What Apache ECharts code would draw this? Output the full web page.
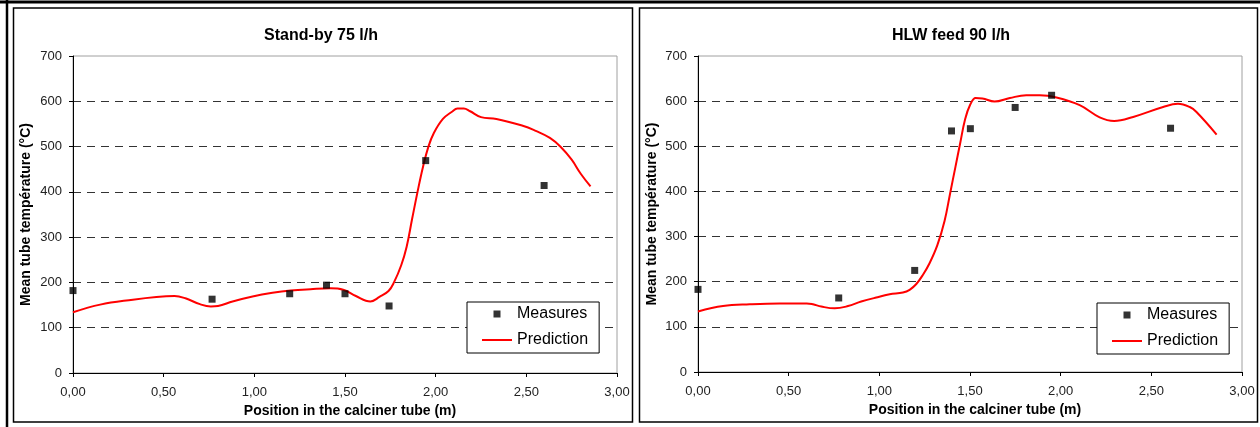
<!DOCTYPE html>
<html>
<head>
<meta charset="utf-8">
<title>Calciner tube temperature</title>
<script src="https://cdn.jsdelivr.net/npm/echarts@6/dist/echarts.min.js"></script>
<style>
  html, body { margin: 0; padding: 0; background: #fff; }
  #main { width: 1260px; height: 427px; }
</style>
</head>
<body>
<div id="main"></div>
<script>
// chart titles
var titles = ['Stand-by 75 l/h', 'HLW feed 90 l/h'];
var seriesNames = ['Measures', 'Prediction'];

// axis ticks and labels
var xTicks = [0, 0.5, 1, 1.5, 2, 2.5, 3];
var xTickLabels = ['0,00', '0,50', '1,00', '1,50', '2,00', '2,50', '3,00'];
var yTicks = [0, 100, 200, 300, 400, 500, 600, 700];
var yTickLabels = ['0', '100', '200', '300', '400', '500', '600', '700'];

// Stand-by 75 l/h : [position (m), temperature (°C)]
var standbyMeasures = [
  [0, 182], [0.767, 163], [1.195, 175], [1.398, 194],
  [1.50, 175], [1.743, 148], [1.945, 469], [2.598, 414]
];
var standbyPrediction = [
  [0, 134], [0.15, 151], [0.33, 162], [0.46, 168], [0.56, 170], [0.62, 165],
  [0.70, 152], [0.76, 147], [0.80, 148], [0.88, 158], [0.99, 169], [1.10, 177],
  [1.20, 182], [1.31, 185], [1.42, 187], [1.49, 184], [1.56, 170], [1.64, 158],
  [1.69, 168], [1.74, 181], [1.77, 200], [1.81, 238], [1.84, 279], [1.87, 340],
  [1.90, 400], [1.93, 455], [1.96, 500], [1.99, 530], [2.04, 561], [2.09, 577],
  [2.12, 584], [2.155, 584], [2.19, 578], [2.25, 565], [2.335, 561], [2.48, 546],
  [2.54, 537], [2.63, 519], [2.69, 499], [2.75, 471], [2.80, 440], [2.854, 412]
];

// HLW feed 90 l/h
var hlwMeasures = [
  [0, 183], [0.776, 164], [1.195, 225], [1.398, 534],
  [1.502, 539], [1.749, 586], [1.95, 613], [2.606, 540]
];
var hlwPrediction = [
  [0, 134], [0.138, 146], [0.285, 150], [0.45, 152], [0.60, 152], [0.634, 150],
  [0.68, 145], [0.754, 141], [0.827, 146], [0.90, 156], [0.983, 165], [1.057, 172],
  [1.13, 176], [1.167, 182], [1.204, 195], [1.24, 215], [1.277, 241], [1.32, 281],
  [1.36, 335], [1.39, 395], [1.42, 455], [1.445, 505], [1.473, 560], [1.502, 593],
  [1.531, 607], [1.569, 606], [1.635, 599], [1.72, 607], [1.81, 613], [1.885, 613],
  [1.977, 608], [2.105, 591], [2.215, 564], [2.295, 556], [2.40, 565], [2.565, 587],
  [2.647, 594], [2.712, 587], [2.749, 576], [2.86, 526]
];

var FONT = 'Liberation Sans, Arial, sans-serif';

function labelFor(ticks, labels) {
  return function (v) {
    var i = ticks.indexOf(Math.round(v * 1000) / 1000);
    return i >= 0 ? labels[i] : '';
  };
}

function makeX(idx) {
  return {
    type: 'value', gridIndex: idx, min: 0, max: 3, interval: 0.5,
    name: 'Position in the calciner tube (m)',
    nameLocation: 'middle', nameGap: 28,
    nameTextStyle: { fontFamily: FONT, fontSize: 14, fontWeight: 'bold', color: '#000', padding: [0, 0, 0, 10] },
    axisLine: { onZero: false, lineStyle: { color: '#000', width: 1 } },
    axisTick: { show: true, length: 4, lineStyle: { color: '#000' } },
    axisLabel: { fontFamily: FONT, fontSize: 13, color: '#222', margin: 13, formatter: labelFor(xTicks, xTickLabels) },
    splitLine: { show: false }
  };
}

function makeY(idx, gap) {
  return {
    type: 'value', gridIndex: idx, min: 0, max: 700, interval: 100,
    name: 'Mean tube température (°C)',
    nameLocation: 'middle', nameGap: gap,
    nameTextStyle: { fontFamily: FONT, fontSize: 14, fontWeight: 'bold', color: '#000' },
    axisLine: { show: true, lineStyle: { color: '#000', width: 1 } },
    axisTick: { show: true, length: 4, lineStyle: { color: '#000' } },
    axisLabel: { fontFamily: FONT, fontSize: 13, color: '#222', margin: 11, formatter: labelFor(yTicks, yTickLabels) },
    splitLine: {
      show: true,
      lineStyle: {
        color: ['transparent', '#333', '#333', '#333', '#333', '#333', '#333', 'transparent'],
        type: [8, 6], width: 1
      }
    }
  };
}

function makeLegend(left, top) {
  return {
    orient: 'vertical', left: left, top: top,
    data: [
      { name: seriesNames[0], icon: 'path://M0,0L10,0L10,10L0,10Z' },
      { name: seriesNames[1], icon: 'path://M0,0L30,0L30,2L0,2Z' }
    ],
    symbolKeepAspect: true,
    backgroundColor: '#fff',
    borderColor: '#000', borderWidth: 1, borderRadius: 0,
    padding: [4, 11, 5, 15],
    itemGap: 10, itemWidth: 30, itemHeight: 7,
    textStyle: { fontFamily: FONT, fontSize: 16, color: '#000' },
    selectedMode: false
  };
}

function measures(idx, data) {
  return {
    name: seriesNames[0], type: 'scatter', xAxisIndex: idx, yAxisIndex: idx,
    data: data, symbol: 'rect', symbolSize: 7,
    itemStyle: { color: '#000' }, z: 4
  };
}

function prediction(idx, data) {
  return {
    name: seriesNames[1], type: 'line', xAxisIndex: idx, yAxisIndex: idx,
    data: data, smooth: 0.4, symbol: 'none', showSymbol: false,
    lineStyle: { color: '#ff0000', width: 2 }, itemStyle: { color: '#ff0000' }, z: 3
  };
}

var chart = echarts.init(document.getElementById('main'), null, { renderer: 'canvas' });

var option = {
  backgroundColor: '#fff',
  animation: false,
  title: [
    { text: titles[0], left: 316, top: 23, textAlign: 'center',
      textStyle: { fontFamily: FONT, fontSize: 16, fontWeight: 'bold', color: '#000' } },
    { text: titles[1], left: 946, top: 23, textAlign: 'center',
      textStyle: { fontFamily: FONT, fontSize: 16, fontWeight: 'bold', color: '#000' } }
  ],
  grid: [
    { left: 73, top: 56, width: 544, height: 317, show: true, borderColor: '#a0a0a0', borderWidth: 1, backgroundColor: 'transparent' },
    { left: 698, top: 56, width: 544, height: 316, show: true, borderColor: '#a0a0a0', borderWidth: 1, backgroundColor: 'transparent' }
  ],
  xAxis: [makeX(0), makeX(1)],
  yAxis: [makeY(0, 40), makeY(1, 39)],
  legend: [makeLegend(467, 302), makeLegend(1097, 303)],
  series: [
    prediction(0, standbyPrediction),
    measures(0, standbyMeasures),
    prediction(1, hlwPrediction),
    measures(1, hlwMeasures)
  ],
  graphic: [
    { type: 'line', shape: { x1: 0, y1: 2, x2: 1260, y2: 2 }, style: { stroke: '#000', lineWidth: 3 }, silent: true },
    { type: 'line', shape: { x1: 7, y1: 0, x2: 7, y2: 427 }, style: { stroke: '#000', lineWidth: 2.5 }, silent: true },
    { type: 'rect', shape: { x: 13.5, y: 8, width: 619, height: 414 }, style: { fill: 'none', stroke: '#000', lineWidth: 1.5 }, silent: true },
    { type: 'rect', shape: { x: 639.5, y: 8, width: 618, height: 414 }, style: { fill: 'none', stroke: '#000', lineWidth: 1.5 }, silent: true }
  ]
};

chart.setOption(option);
</script>
</body>
</html>
